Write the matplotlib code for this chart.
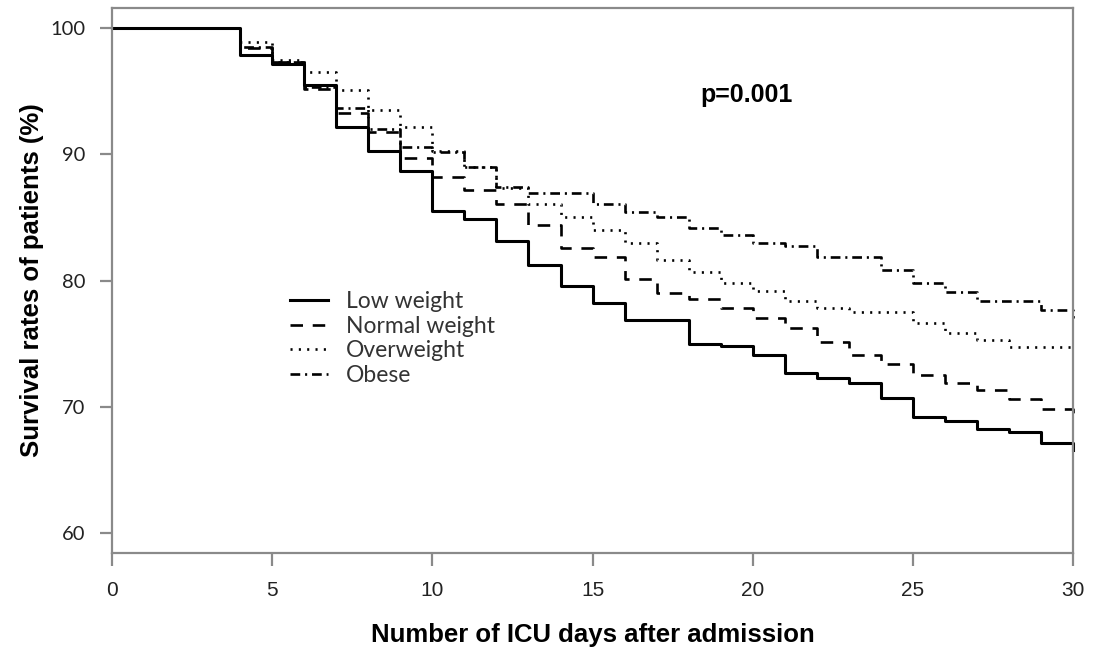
import matplotlib
matplotlib.use('Agg')
import matplotlib.pyplot as plt
from matplotlib.lines import Line2D

days = [0, 4, 5, 6, 7, 8, 9, 10, 11, 12, 13, 14, 15, 16, 17, 18, 19, 20,
        21, 22, 23, 24, 25, 26, 27, 28, 29, 30]

low_weight = [100, 97.9, 97.2, 95.5, 92.2, 90.3, 88.7, 85.5, 84.9, 83.1, 81.2, 79.6, 78.2, 76.9,
              76.9, 75.0, 74.8, 74.1, 72.7, 72.3, 71.9, 70.7, 69.2, 68.9, 68.2, 68.0, 67.1, 66.6]
normal_weight = [100, 98.4, 97.3, 95.2, 93.3, 91.8, 89.7, 88.2, 87.2, 86.1, 84.4, 82.6, 81.9, 80.1,
                 79.0, 78.5, 77.8, 77.0, 76.2, 75.1, 74.1, 73.4, 72.5, 71.9, 71.3, 70.6, 69.8, 69.0]
overweight = [100, 98.9, 97.5, 96.5, 95.1, 93.5, 92.2, 90.3, 89.0, 87.3, 86.1, 85.0, 84.0, 83.0,
              81.6, 80.7, 79.8, 79.2, 78.4, 77.8, 77.5, 77.5, 76.6, 75.8, 75.3, 74.7, 74.7, 74.7]
obese = [100, 98.5, 97.3, 95.3, 93.7, 92.0, 90.6, 90.2, 89.0, 87.4, 86.9, 86.9, 86.1, 85.4,
         85.0, 84.2, 83.6, 83.0, 82.7, 81.9, 81.9, 80.8, 79.8, 79.1, 78.4, 78.4, 77.7, 77.0]

labels = ['Low weight', 'Normal weight', 'Overweight', 'Obese']
x_ticks = [0, 5, 10, 15, 20, 25, 30]
y_ticks = [60, 70, 80, 90, 100]

plt.rcParams['lines.scale_dashes'] = False

styles = [
    dict(lw=2.2, ls='-'),
    dict(lw=1.9, ls=(0, (9, 7))),
    dict(lw=1.9, ls=(0, (1.5, 4.5))),
    dict(lw=1.9, ls=(0, (7, 3.5, 1.5, 3.5))),
]

fig = plt.figure(figsize=(10.95, 6.5), dpi=100)
ax = fig.add_axes([0.1023, 0.1492, 0.8777, 0.8385])

series = [low_weight, normal_weight, overweight, obese]
for s, st, lab in zip(series, styles, labels):
    ax.step(days, s, where='post', color='black', lw=st['lw'], ls=st['ls'],
            label=lab, clip_on=False)

ax.set_xlim(0, 30)
ax.set_ylim(58.4, 101.6)
ax.set_xticks(x_ticks)
ax.set_yticks(y_ticks)

grey = '#8a8a8a'
for sp in ax.spines.values():
    sp.set_color(grey)
    sp.set_linewidth(1.6)
ax.tick_params(axis='both', direction='out', length=9, width=1.6, color=grey,
               labelcolor='#222222')
ax.tick_params(axis='y', pad=10)
ax.tick_params(axis='x', pad=11)
for t in ax.get_xticklabels():
    t.set_fontfamily('Liberation Sans')
    t.set_fontsize(15)
for t in ax.get_yticklabels():
    t.set_fontfamily('Lato')
    t.set_fontsize(14.5)

ax.set_xlabel('Number of ICU days after admission', fontsize=18.5, fontweight='bold',
              family='Liberation Sans', labelpad=17)
ax.set_ylabel('Survival rates of patients (%)', fontsize=18.5, fontweight='bold',
              family='Liberation Sans', labelpad=5)

ax.text(19.8, 94.7, 'p=0.001', fontsize=18, fontweight='bold', family='Liberation Sans',
        ha='center', va='center')

handles = [Line2D([], [], color='black', lw=st['lw'], ls=st['ls']) for st in styles]
ax.legend(handles, labels, loc='center left', bbox_to_anchor=(0.173, 0.3935), frameon=False,
          prop={'family': 'Lato', 'size': 16.5}, handlelength=1.65, handletextpad=0.8,
          labelspacing=0.15, borderpad=0, labelcolor='#333333')

fig.savefig('out.png', dpi=100)
